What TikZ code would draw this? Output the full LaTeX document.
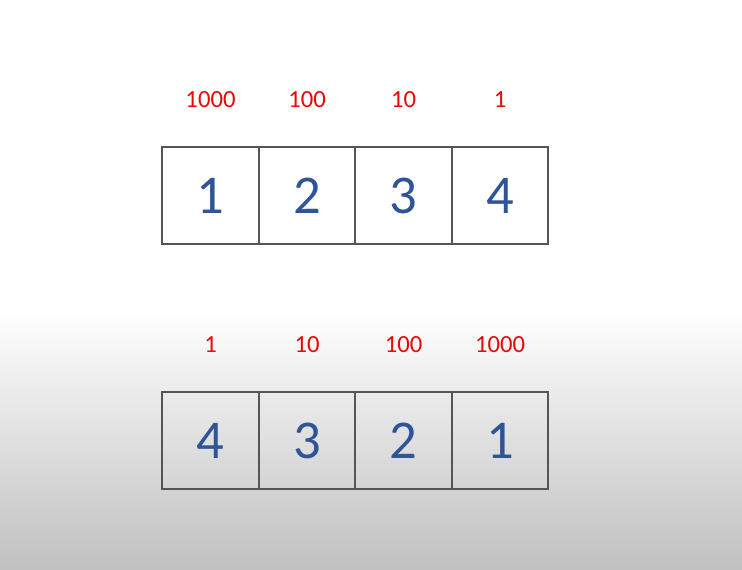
\documentclass[tikz,border=0pt]{standalone}
\usepackage{fontspec}
\setmainfont{Carlito}
\definecolor{digitblue}{RGB}{47,85,151}
\definecolor{weightred}{RGB}{230,10,10}
\definecolor{boxgray}{RGB}{85,85,85}
\definecolor{floorgray}{RGB}{192,192,192}
\tikzset{cell/.style={draw=boxgray,line width=1.5pt,minimum height=72.8pt,
    inner sep=0pt,text=digitblue,font=\fontsize{41}{44}\selectfont},
  weight/.style={text=weightred,inner sep=0pt,font=\fontsize{18.5}{21}\selectfont}}

\begin{document}
\begin{tikzpicture}[x=0.75pt,y=-0.75pt]
  % page and background
  \useasboundingbox (0,0) rectangle (742,570);
  \fill[white] (0,0) rectangle (742,310);
  \shade[top color=white,bottom color=floorgray] (0,310) rectangle (742,570);
  % top row
  \foreach \D/\W/\L/\R [count=\i] in {1/1000/162/259,2/100/259/355,3/10/355/452,4/1/452/548}
  {\node[cell,minimum width={(\R-\L)*0.75pt}] (t\i) at ({(\L+\R)/2},195.5) {\raisebox{-2.5pt}{\D}};
   \node[weight] (tw\i) at ({(\L+\R)/2},100) {\W};}
  % bottom row
  \foreach \D/\W/\L/\R [count=\i] in {4/1/162/259,3/10/259/355,2/100/355/452,1/1000/452/548}
  {\node[cell,minimum width={(\R-\L)*0.75pt}] (b\i) at ({(\L+\R)/2},440.5) {\raisebox{-2.5pt}{\D}};
   \node[weight] (bw\i) at ({(\L+\R)/2},345) {\W};}
\end{tikzpicture}
\end{document}
